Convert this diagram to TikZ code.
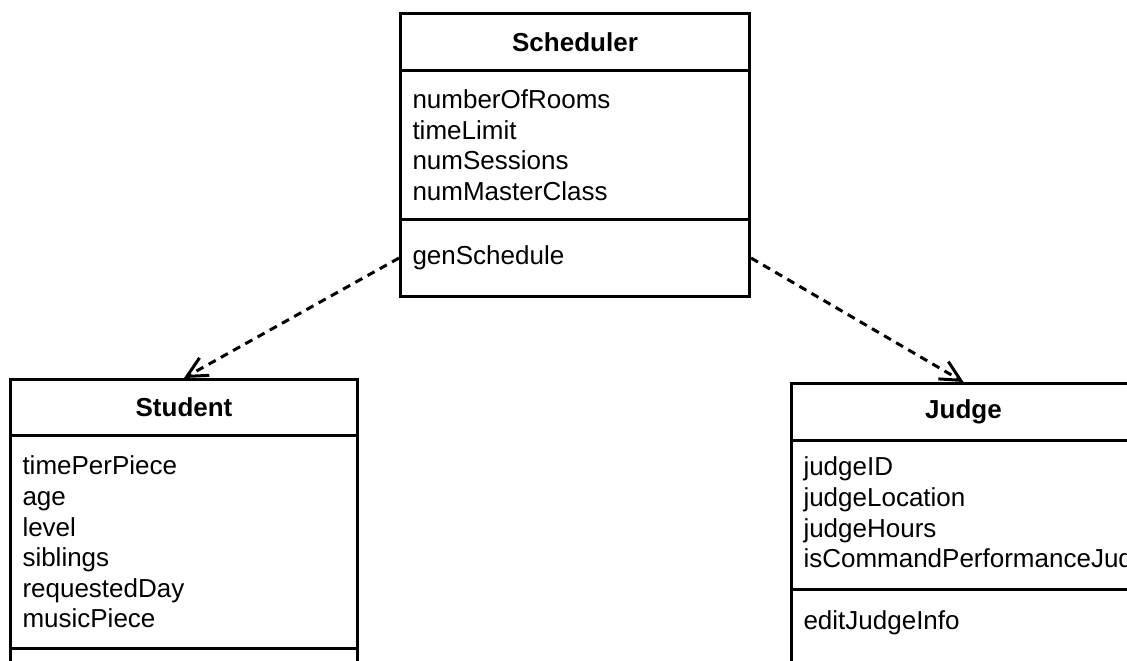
\documentclass[tikz,border=0pt]{standalone}
\usepackage{fontspec}
\setmainfont{Liberation Sans}
\usepackage{tikz}
\usetikzlibrary{arrows.meta}
\definecolor{LineColor}{RGB}{0,0,0}
\definecolor{FontColor}{RGB}{0,0,0}

\tikzset{
  classname/.style={draw=LineColor, line width=1.5pt, anchor=north west, inner sep=0pt, text=FontColor, font=\fontsize{13}{15.3}\selectfont\bfseries},
  classpart/.style={draw=LineColor, line width=1.5pt, anchor=north west, inner xsep=6pt, inner ysep=0pt, align=left, text=FontColor, font=\fontsize{13}{15.3}\selectfont},
  depends/.style={-{Straight Barb[length=10pt,width=10pt]}, dash pattern=on 4pt off 3pt, line width=1.5pt, draw=LineColor}
}

\begin{document}
\begin{tikzpicture}[x=0.5pt,y=-0.5pt]
    \useasboundingbox (0,0) rectangle (1127,660);
    \clip (0,0) rectangle (1127,660);

    \node[classname, minimum width=174.5pt, minimum height=28.5pt] (sched) at (399,12) {Scheduler};
    \node[classpart, text width=162.5pt, minimum height=74.5pt] (schedAttr) at (399,69) {numberOfRooms\\timeLimit\\numSessions\\numMasterClass};
    \node[classpart, text width=162.5pt, minimum height=38.5pt] (schedOps) at (399,218) {genSchedule};

    \node[classname, minimum width=173.5pt, minimum height=28pt] (student) at (9,378) {Student};
    \node[classpart, text width=161.5pt, minimum height=106.5pt] (studentAttr) at (9,434) {timePerPiece\\age\\level\\siblings\\requestedDay\\musicPiece};
    \node[classpart, text width=161.5pt, minimum height=30pt] (studentOps) at (9,647) {};

    \node[classname, minimum width=172pt, minimum height=28.5pt] (judge) at (790,382) {Judge};
    \node[classpart, text width=160pt, minimum height=74.5pt] (judgeAttr) at (790,439) {judgeID\\judgeLocation\\judgeHours\\\mbox{isCommandPerformanceJudge}};
    \node[classpart, text width=160pt, text height=20pt, text depth=20pt] (judgeOps) at (790,588) {editJudgeInfo};

    \draw[depends] (schedOps.west) to (student.north);
    \draw[depends] (schedOps.east) to (judge.north);

\end{tikzpicture}
\end{document}
